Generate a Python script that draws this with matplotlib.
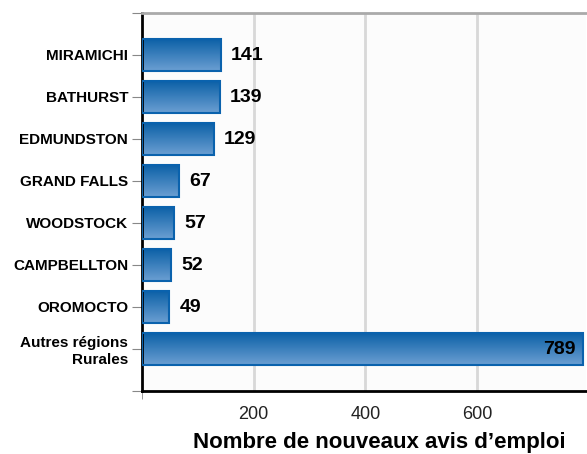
import numpy as np
import matplotlib
matplotlib.use("Agg")
import matplotlib.pyplot as plt
from matplotlib.colors import LinearSegmentedColormap

regions = ["MIRAMICHI", "BATHURST", "EDMUNDSTON", "GRAND FALLS", "WOODSTOCK",
           "CAMPBELLTON", "OROMOCTO", "Autres régions\nRurales"]
values = [141, 139, 129, 67, 57, 52, 49, 789]
xticks = [200, 400, 600]
xticklabels = ["200", "400", "600"]

plt.rcParams["font.family"] = ["Liberation Sans", "DejaVu Sans"]

fig = plt.figure(figsize=(5.87, 4.54), dpi=100)
ax = fig.add_axes([142 / 587, 1 - 391 / 454, 444 / 587, 378 / 454])
ax.set_facecolor("#fcfcfc")

cmap = LinearSegmentedColormap.from_list("bar", ["#0a5fa6", "#6b9fd2"])
grad = np.linspace(0, 1, 64).reshape(-1, 1)

y = np.arange(len(values))
bars = ax.barh(y, values, height=0.78, color="none", edgecolor="#0a62ad", linewidth=1.5, zorder=3)
for b in bars:
    x0, y0 = b.get_x(), b.get_y()
    w, h = b.get_width(), b.get_height()
    im = ax.imshow(grad, cmap=cmap, aspect="auto", extent=[x0, x0 + w, y0 + h, y0],
                   zorder=2, interpolation="bilinear")
    im.set_clip_path(b)

for yi, v in zip(y, values):
    if v > 500:
        ax.text(v - 12, yi, str(v), ha="right", va="center", fontsize=14,
                fontweight="bold", color="black", zorder=4)
    else:
        ax.text(v + 18, yi, str(v), ha="left", va="center", fontsize=14,
                fontweight="bold", color="black", zorder=4)

ax.set_xlim(0, 795)
ax.set_ylim(8, -1)
ax.set_yticks(list(y) + [-1, 8])
ax.set_yticklabels(regions + ["", ""], fontsize=11, fontweight="bold")
ax.set_xticks(xticks)
ax.set_xticklabels(xticklabels, fontsize=13, color="#222222")
ax.set_xticks([0], minor=True)
ax.tick_params(axis="y", length=7, color="#888888", pad=3)
ax.tick_params(axis="x", which="major", length=0, pad=11)
ax.tick_params(axis="x", which="minor", length=6, color="#888888")
for t in ax.get_yticklabels():
    t.set_horizontalalignment("right")
    t.set_multialignment("right")

ax.grid(axis="x", which="major", color="#d8d8d8", linewidth=2, zorder=0)
ax.set_axisbelow(True)
ax.spines["left"].set_linewidth(2)
ax.spines["left"].set_color("black")
ax.spines["bottom"].set_linewidth(2)
ax.spines["bottom"].set_color("black")
ax.spines["top"].set_color("#aaaaaa")
ax.spines["top"].set_linewidth(2)
ax.spines["right"].set_visible(False)

fig.text(379 / 587, 6 / 454, "Nombre de nouveaux avis d’emploi", fontsize=16,
         fontweight="bold", ha="center", va="baseline")

fig.savefig("out.png", dpi=100)
